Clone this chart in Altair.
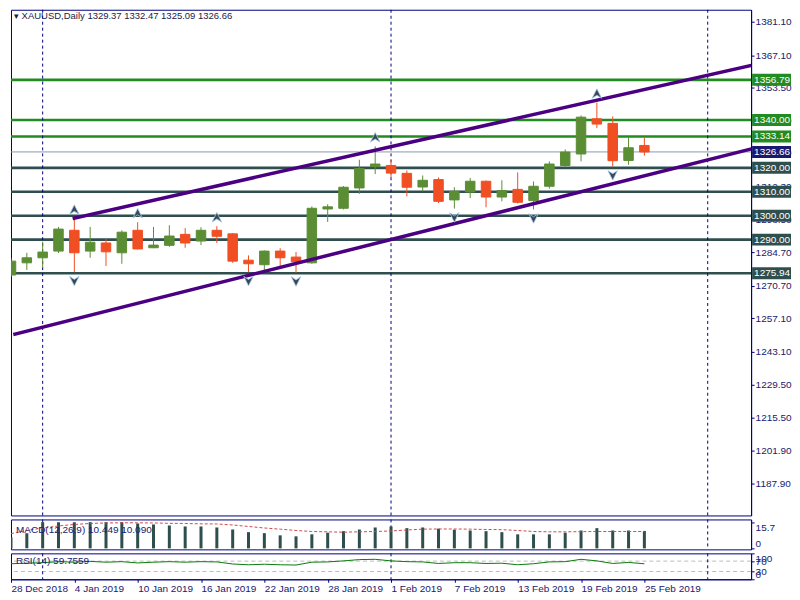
import altair as alt
import pandas as pd

# ---------------- data ----------------
dates = ["28 Dec 2018", "31 Dec 2018", "2 Jan 2019", "3 Jan 2019", "4 Jan 2019", "7 Jan 2019",
         "8 Jan 2019", "9 Jan 2019", "10 Jan 2019", "11 Jan 2019", "14 Jan 2019", "15 Jan 2019",
         "16 Jan 2019", "17 Jan 2019", "18 Jan 2019", "21 Jan 2019", "22 Jan 2019", "23 Jan 2019",
         "24 Jan 2019", "25 Jan 2019", "28 Jan 2019", "29 Jan 2019", "30 Jan 2019", "31 Jan 2019",
         "1 Feb 2019", "4 Feb 2019", "5 Feb 2019", "6 Feb 2019", "7 Feb 2019", "8 Feb 2019",
         "11 Feb 2019", "12 Feb 2019", "13 Feb 2019", "14 Feb 2019", "15 Feb 2019", "18 Feb 2019",
         "19 Feb 2019", "20 Feb 2019", "21 Feb 2019", "22 Feb 2019", "25 Feb 2019"]
opens = [1275.2, 1280.3, 1282.4, 1285.2, 1293.9, 1285.2, 1288.6, 1284.5, 1293.9, 1286.6,
         1287.6, 1292.2, 1289.4, 1293.9, 1292.4, 1281.4, 1279.5, 1285.2, 1282.7, 1280.3,
         1302.8, 1303.1, 1311.6, 1320.5, 1321.0, 1317.7, 1312.0, 1315.1, 1306.6, 1309.9,
         1314.4, 1307.8, 1311.0, 1306.3, 1312.3, 1321.0, 1325.8, 1340.5, 1338.6, 1323.1, 1329.37]
highs = [1282.3, 1284.5, 1289.1, 1295.3, 1298.8, 1295.3, 1290.3, 1293.9, 1297.3, 1295.3,
         1296.0, 1294.8, 1295.2, 1295.6, 1292.7, 1283.4, 1285.5, 1286.4, 1284.8, 1303.9,
         1304.8, 1312.4, 1323.4, 1329.0, 1323.4, 1318.9, 1316.8, 1316.0, 1311.9, 1315.8,
         1314.7, 1314.8, 1318.1, 1314.3, 1322.7, 1327.7, 1341.9, 1347.3, 1341.5, 1332.8, 1332.47]
lows = [1274.4, 1277.3, 1278.2, 1284.4, 1276.4, 1282.4, 1279.0, 1279.9, 1285.9, 1286.4,
        1287.0, 1286.6, 1287.7, 1288.6, 1280.3, 1276.4, 1277.1, 1279.0, 1276.2, 1279.9,
        1297.4, 1302.6, 1309.1, 1317.4, 1315.8, 1308.1, 1310.2, 1305.3, 1303.0, 1307.4,
        1303.5, 1306.0, 1305.1, 1302.6, 1311.3, 1320.2, 1322.7, 1336.6, 1320.6, 1321.3, 1325.09]
closes = [1281.0, 1282.4, 1284.8, 1294.4, 1284.5, 1288.9, 1284.9, 1293.1, 1286.1, 1287.7,
          1291.5, 1288.6, 1293.9, 1291.4, 1281.0, 1279.9, 1285.2, 1282.4, 1280.7, 1303.1,
          1303.7, 1311.9, 1319.7, 1321.6, 1317.8, 1311.9, 1314.8, 1306.0, 1310.2, 1314.4,
          1307.8, 1310.5, 1305.6, 1312.3, 1321.6, 1326.6, 1341.2, 1338.3, 1323.0, 1328.4, 1326.66]
macd_hist = [6.6, 9.0, 15.7, 15.7, 15.7, 15.7, 15.7, 15.7, 14.9, 14.3,
             13.7, 13.1, 13.1, 12.5, 11.3, 9.7, 9.1, 7.8, 7.2, 8.4,
             9.4, 10.3, 11.3, 12.5, 13.1, 12.1, 12.5, 11.8, 11.2, 10.7,
             10.3, 9.7, 8.4, 8.4, 8.4, 9.4, 10.7, 12.1, 10.7, 10.7, 10.449]
macd_signal = [8.8, 10.7, 12.2, 13.4, 14.3, 14.9, 15.2, 15.3, 15.3, 15.2,
               15.0, 14.9, 14.7, 14.6, 14.0, 13.1, 12.2, 11.5, 10.7, 10.1,
               9.9, 9.7, 9.9, 10.1, 10.4, 11.0, 11.5, 11.6, 11.6, 11.5,
               11.3, 11.2, 10.7, 10.1, 9.9, 9.9, 10.0, 10.1, 10.1, 10.1, 10.09]
rsi = [60, 62, 64, 68, 66, 69, 66, 68, 63, 66,
       68, 66, 68, 67, 59, 56, 58, 56, 55, 66,
       67, 71, 76, 77, 71, 68, 67, 61, 64, 64,
       61, 62, 56, 60, 67, 68, 77, 71, 61, 65, 59.7559]
fractal_up = [4, 8, 13, 23, 37]
fractal_down = [4, 15, 18, 28, 33, 38]
green_levels = [1356.79, 1340.00, 1333.14]
slate_levels = [1320.00, 1310.00, 1300.00, 1290.00, 1275.94]
last_price = 1326.66
price_ticks = [1381.10, 1367.10, 1353.50, 1339.90, 1326.30, 1312.30, 1298.50, 1284.70,
               1270.70, 1257.10, 1243.10, 1229.50, 1215.50, 1201.90, 1187.90, 1174.30]
separators = [2, 24, 44]
upper_x = [4, 46.74]
upper_p = [1299.0, 1362.8]
lower_x = [0.25, 46.74]
lower_p = [1250.5, 1327.9]
date_ticks = list(range(0, 41, 4))

# ---------------- styling ----------------
W = 742
H_MAIN, H_MACD, H_RSI = 507, 30, 26
XMAX = 46.74
NAVY = "#000080"
TXT = "#20206e"
FONT = "Liberation Sans"
FS = 10
GREEN_C = "#5B8E34"
RED_C = "#F04E23"
LEVEL_GREEN = "#228B22"
LEVEL_SLATE = "#2F4F4F"
INDIGO = "#4B0082"

xs = alt.Scale(domain=[0, XMAX], nice=False, zero=False)
ys = alt.Scale(domain=[1174.68, 1386.10], nice=False, zero=False)

YAX = alt.Axis(orient="right", values=price_ticks, format=".2f", tickSize=3, labelPadding=1,
               title=None, grid=False, labelOverlap=False)

candles = pd.DataFrame({"idx": list(range(len(dates))), "open": opens, "high": highs,
                        "low": lows, "close": closes})
candles["col"] = [GREEN_C if c >= o else RED_C for o, c in zip(opens, closes)]

levels = pd.DataFrame({
    "price": green_levels + slate_levels,
    "col": [LEVEL_GREEN] * len(green_levels) + [LEVEL_SLATE] * len(slate_levels),
})
boxes = pd.DataFrame({
    "price": green_levels + slate_levels + [last_price],
    "col": [LEVEL_GREEN] * len(green_levels) + [LEVEL_SLATE] * len(slate_levels) + ["#191970"],
})
boxes["label"] = [f"{p:.2f}" for p in boxes["price"]]

trend = pd.DataFrame({
    "line": ["u", "u", "l", "l"],
    "x": upper_x + lower_x,
    "p": upper_p + lower_p,
})
seps = pd.DataFrame({"idx": separators})
up_df = pd.DataFrame({"idx": fractal_up, "p": [highs[i] for i in fractal_up]})
dn_df = pd.DataFrame({"idx": fractal_down, "p": [lows[i] for i in fractal_down]})
title_df = pd.DataFrame({"t": ["\u25BE XAUUSD,Daily  " + " ".join(
    f"{v:.2f}" for v in [opens[-1], highs[-1], lows[-1], closes[-1]])]})

X = alt.X("idx:Q", scale=xs, axis=None)


def YP(field):
    return alt.Y(field, scale=ys, axis=YAX)


level_rules = alt.Chart(levels).mark_rule(strokeWidth=2.6).encode(
    y=YP("price:Q"), color=alt.Color("col:N", scale=None))
last_rule = alt.Chart(pd.DataFrame({"price": [last_price]})).mark_rule(
    strokeWidth=1, color="#8a9aaa").encode(y=YP("price:Q"))
sep_main = alt.Chart(seps).mark_rule(strokeDash=[3, 3], color=NAVY, strokeWidth=1).encode(x=X)
wicks = alt.Chart(candles).mark_rule(strokeWidth=1, clip=True).encode(
    x=X, y=YP("low:Q"), y2="high:Q", color=alt.Color("col:N", scale=None))
bodies = alt.Chart(candles).transform_calculate(
    x0="max(datum.idx - 0.3, 0)", x1="datum.idx + 0.3"
).mark_rect(strokeWidth=1, clip=True).encode(
    x=alt.X("x0:Q", scale=xs, axis=None), x2="x1:Q",
    y=YP("open:Q"), y2="close:Q",
    color=alt.Color("col:N", scale=None), stroke=alt.Stroke("col:N", scale=None))
trend_lines = alt.Chart(trend).mark_line(color=INDIGO, strokeWidth=3.5, clip=True,
                                         strokeCap="square").encode(
    x=alt.X("x:Q", scale=xs, axis=None), y=YP("p:Q"),
    detail="line:N", order="x:Q")
up_arrows = alt.Chart(up_df).mark_point(
    shape="M0,-1L1,1L0,0.35L-1,1Z", filled=True, fill="#3c4652", stroke="#9cc8ec",
    strokeWidth=0.8, size=90, yOffset=-9, opacity=1).encode(x=X, y=YP("p:Q"))
dn_arrows = alt.Chart(dn_df).mark_point(
    shape="M0,1L1,-1L0,-0.35L-1,-1Z", filled=True, fill="#3c4652", stroke="#9cc8ec",
    strokeWidth=0.8, size=90, yOffset=9, opacity=1).encode(x=X, y=YP("p:Q"))
box_rects = alt.Chart(boxes).mark_rect(yOffset=-6, y2Offset=6).encode(
    x=alt.value(W + 1), x2=alt.value(W + 40),
    y=YP("price:Q"), y2="price:Q",
    color=alt.Color("col:N", scale=None))
box_text = alt.Chart(boxes).mark_text(align="left", baseline="middle", color="white",
                                      font=FONT, fontSize=FS).encode(
    x=alt.value(W + 3), y=YP("price:Q"), text="label:N")
title_text = alt.Chart(title_df).mark_text(align="left", baseline="top", color="#1a1a4a",
                                           font=FONT, fontSize=9.5).encode(
    x=alt.value(3), y=alt.value(1), text="t:N")

main = alt.layer(level_rules, last_rule, sep_main, wicks, bodies, trend_lines,
                 up_arrows, dn_arrows, box_rects, box_text, title_text).properties(
    width=W, height=H_MAIN)

# ---------------- MACD ----------------
macd_df = pd.DataFrame({"idx": list(range(len(dates))), "hist": macd_hist, "sig": macd_signal})
ms = alt.Scale(domain=[-0.6, 17.31], nice=False, zero=False)
MAX = alt.Axis(orient="right", values=[15.7, 0], tickSize=3, labelPadding=1, title=None,
               grid=False, labelFlush=8, labelOverlap=False,
               labelExpr="datum.value == 0 ? '0' : format(datum.value, '.1f')")
macd_bars = alt.Chart(macd_df).transform_calculate(
    x0="max(datum.idx - 0.095, 0)", x1="datum.idx + 0.095", zero="0"
).mark_rect(color=LEVEL_SLATE).encode(
    x=alt.X("x0:Q", scale=xs, axis=None), x2="x1:Q",
    y=alt.Y("hist:Q", scale=ms, axis=MAX), y2="zero:Q")
macd_sig = alt.Chart(macd_df).mark_line(color="#D24A4A", strokeWidth=1, strokeDash=[3, 2]).encode(
    x=X, y=alt.Y("sig:Q", scale=ms, axis=MAX))
sep_macd = alt.Chart(seps).mark_rule(strokeDash=[3, 3], color=NAVY, strokeWidth=1).encode(x=X)
macd_txt = alt.Chart(pd.DataFrame({"t": [f"MACD(12,26,9) {macd_hist[-1]:.3f} {macd_signal[-1]:.3f}"]})
                     ).mark_text(align="left", baseline="middle", color=TXT, font=FONT,
                                 fontSize=FS).encode(x=alt.value(5), y=alt.value(11), text="t:N")
macd = alt.layer(sep_macd, macd_bars, macd_sig, macd_txt).properties(width=W, height=H_MACD)

# ---------------- RSI ----------------
rsi_df = pd.DataFrame({"idx": list(range(len(dates))), "rsi": rsi})
rs = alt.Scale(domain=[0, 100], nice=False, zero=False)
label_expr = "[" + ",".join(f"'{d}'" for d in dates) + "][datum.value]"
RAX = alt.Axis(orient="right", values=[100, 70, 30, 0], tickSize=3, labelPadding=1, title=None,
               grid=False, labelFlush=6, labelOverlap=False, format="d")
XAX = alt.Axis(values=date_ticks, labelExpr=label_expr, labelAlign="left", labelFlush=False,
               labelOverlap=False, tickSize=3, labelPadding=1, title=None, grid=False)
rsi_levels = alt.Chart(pd.DataFrame({"v": [70, 30]})).mark_rule(
    color="#bdbdbd", strokeDash=[4, 3], strokeWidth=1).encode(
    y=alt.Y("v:Q", scale=rs, axis=RAX))
rsi_line = alt.Chart(rsi_df).mark_line(color="#0B7A0B", strokeWidth=1).encode(
    x=alt.X("idx:Q", scale=xs, axis=XAX),
    y=alt.Y("rsi:Q", scale=rs, axis=RAX))
sep_rsi = alt.Chart(seps).mark_rule(strokeDash=[3, 3], color=NAVY, strokeWidth=1).encode(
    x=alt.X("idx:Q", scale=xs, axis=XAX))
rsi_txt = alt.Chart(pd.DataFrame({"t": [f"RSI(14) {rsi[-1]:.4f}"]})).mark_text(
    align="left", baseline="middle", color=TXT, font=FONT, fontSize=FS).encode(
    x=alt.value(5), y=alt.value(8), text="t:N")
rsi_panel = alt.layer(rsi_levels, sep_rsi, rsi_line, rsi_txt).properties(width=W, height=H_RSI)

chart = alt.vconcat(main, macd, rsi_panel, spacing=2).properties(padding=0).configure_view(
    stroke=NAVY, strokeWidth=1
).configure_axis(
    labelFont=FONT, labelFontSize=FS, labelColor=TXT, domainColor=NAVY, tickColor=NAVY,
    domainWidth=1
)

chart.save("out.html", embed_options={"renderer": "svg", "actions": False})
